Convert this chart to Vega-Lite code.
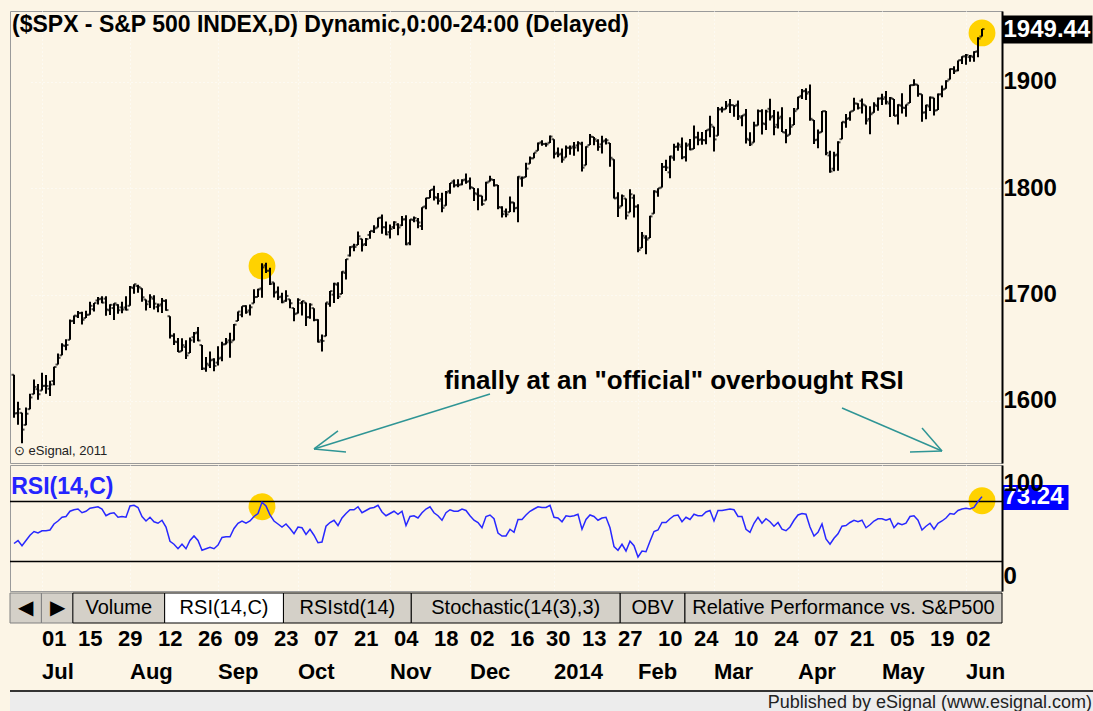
{
  "$schema": "https://vega.github.io/schema/vega-lite/v6.json",
  "background": "#FCF5E6",
  "padding": {"left": 8, "top": 10, "right": 0, "bottom": 0},
  "config": {
    "font": "Liberation Sans",
    "view": {"stroke": null},
    "axis": {"labelFont": "Liberation Sans"},
    "title": {"font": "Liberation Sans"}
  },
  "data": {"values": [
{"date":"2013-06-20","open":1624.6,"high":1624.6,"low":1584.3,"close":1588.2,"rsi":42},
{"date":"2013-06-21","open":1588.6,"high":1599.2,"low":1577.7,"close":1592.4,"rsi":43.9},
{"date":"2013-06-24","open":1588.8,"high":1588.8,"low":1560.3,"close":1573.1,"rsi":40.5},
{"date":"2013-06-25","open":1577.5,"high":1593.8,"low":1577.1,"close":1588.0,"rsi":44},
{"date":"2013-06-26","open":1592.3,"high":1606.8,"low":1592.3,"close":1603.3,"rsi":47.5},
{"date":"2013-06-27","open":1606.4,"high":1620.1,"low":1606.4,"close":1613.2,"rsi":50},
{"date":"2013-06-28","open":1611.1,"high":1615.9,"low":1601.1,"close":1606.3,"rsi":49},
{"date":"2013-07-01","open":1609.8,"high":1626.6,"low":1609.8,"close":1614.1,"rsi":50.5},
{"date":"2013-07-02","open":1614.3,"high":1624.3,"low":1606.8,"close":1614.1,"rsi":50.5},
{"date":"2013-07-03","open":1611.5,"high":1618.9,"low":1604.6,"close":1615.4,"rsi":51},
{"date":"2013-07-05","open":1618.7,"high":1632.1,"low":1614.7,"close":1631.9,"rsi":55},
{"date":"2013-07-08","open":1634.2,"high":1644.7,"low":1634.2,"close":1640.5,"rsi":57},
{"date":"2013-07-09","open":1642.9,"high":1654.2,"low":1642.9,"close":1652.3,"rsi":59.5},
{"date":"2013-07-10","open":1651.6,"high":1657.9,"low":1647.7,"close":1652.6,"rsi":60},
{"date":"2013-07-11","open":1657.4,"high":1676.6,"low":1657.4,"close":1675.0,"rsi":63.5},
{"date":"2013-07-12","open":1675.3,"high":1680.2,"low":1672.3,"close":1680.2,"rsi":64.5},
{"date":"2013-07-15","open":1679.6,"high":1684.5,"low":1677.9,"close":1682.5,"rsi":65},
{"date":"2013-07-16","open":1682.7,"high":1683.7,"low":1671.8,"close":1676.3,"rsi":62.5},
{"date":"2013-07-17","open":1677.9,"high":1684.8,"low":1677.9,"close":1680.9,"rsi":63.5},
{"date":"2013-07-18","open":1681.1,"high":1693.1,"low":1681.1,"close":1689.4,"rsi":65.5},
{"date":"2013-07-19","open":1686.2,"high":1692.1,"low":1684.1,"close":1692.1,"rsi":66},
{"date":"2013-07-22","open":1694.4,"high":1697.6,"low":1690.7,"close":1695.5,"rsi":66.5},
{"date":"2013-07-23","open":1696.1,"high":1698.4,"low":1691.7,"close":1692.4,"rsi":65},
{"date":"2013-07-24","open":1696.1,"high":1698.4,"low":1680.1,"close":1685.9,"rsi":60.5},
{"date":"2013-07-25","open":1685.2,"high":1690.9,"low":1680.7,"close":1690.3,"rsi":62},
{"date":"2013-07-26","open":1687.3,"high":1691.9,"low":1676.0,"close":1691.7,"rsi":62.5},
{"date":"2013-07-29","open":1690.3,"high":1690.9,"low":1681.9,"close":1685.3,"rsi":59.5},
{"date":"2013-07-30","open":1687.9,"high":1693.2,"low":1682.4,"close":1685.9,"rsi":60},
{"date":"2013-07-31","open":1687.8,"high":1698.4,"low":1684.9,"close":1685.7,"rsi":59.5},
{"date":"2013-08-01","open":1689.4,"high":1707.9,"low":1689.4,"close":1706.9,"rsi":67},
{"date":"2013-08-02","open":1706.1,"high":1709.7,"low":1700.7,"close":1709.7,"rsi":67.5},
{"date":"2013-08-05","open":1708.0,"high":1709.2,"low":1701.6,"close":1707.1,"rsi":66},
{"date":"2013-08-06","open":1705.8,"high":1705.8,"low":1693.3,"close":1697.4,"rsi":60},
{"date":"2013-08-07","open":1695.3,"high":1695.3,"low":1684.9,"close":1690.9,"rsi":57},
{"date":"2013-08-08","open":1693.4,"high":1700.2,"low":1687.4,"close":1697.5,"rsi":59.5},
{"date":"2013-08-09","open":1696.1,"high":1699.4,"low":1686.0,"close":1691.4,"rsi":56.5},
{"date":"2013-08-12","open":1688.4,"high":1691.5,"low":1683.4,"close":1689.5,"rsi":55.5},
{"date":"2013-08-13","open":1690.7,"high":1696.8,"low":1682.6,"close":1694.2,"rsi":57.5},
{"date":"2013-08-14","open":1693.9,"high":1695.5,"low":1684.8,"close":1685.4,"rsi":53},
{"date":"2013-08-15","open":1679.6,"high":1679.6,"low":1658.6,"close":1661.3,"rsi":43.5},
{"date":"2013-08-16","open":1661.2,"high":1663.6,"low":1652.6,"close":1655.8,"rsi":41.5},
{"date":"2013-08-19","open":1655.3,"high":1659.2,"low":1646.1,"close":1646.1,"rsi":38.5},
{"date":"2013-08-20","open":1646.8,"high":1658.9,"low":1646.8,"close":1652.4,"rsi":41.5},
{"date":"2013-08-21","open":1650.7,"high":1657.0,"low":1639.4,"close":1642.8,"rsi":38.5},
{"date":"2013-08-22","open":1645.0,"high":1659.6,"low":1645.0,"close":1657.0,"rsi":44},
{"date":"2013-08-23","open":1659.9,"high":1664.8,"low":1654.8,"close":1663.5,"rsi":47},
{"date":"2013-08-26","open":1664.3,"high":1669.5,"low":1656.0,"close":1656.8,"rsi":44},
{"date":"2013-08-27","open":1652.5,"high":1652.5,"low":1629.1,"close":1630.5,"rsi":37.5},
{"date":"2013-08-28","open":1630.3,"high":1641.2,"low":1627.5,"close":1635.0,"rsi":38.5},
{"date":"2013-08-29","open":1633.5,"high":1646.4,"low":1630.9,"close":1638.2,"rsi":39.5},
{"date":"2013-08-30","open":1638.9,"high":1640.1,"low":1628.0,"close":1633.0,"rsi":38.5},
{"date":"2013-09-03","open":1636.0,"high":1651.4,"low":1633.4,"close":1639.8,"rsi":41},
{"date":"2013-09-04","open":1640.7,"high":1655.7,"low":1637.4,"close":1653.1,"rsi":46},
{"date":"2013-09-05","open":1653.3,"high":1659.2,"low":1653.1,"close":1655.1,"rsi":46.5},
{"date":"2013-09-06","open":1656.9,"high":1664.1,"low":1640.6,"close":1655.2,"rsi":46.5},
{"date":"2013-09-09","open":1656.9,"high":1672.4,"low":1656.9,"close":1671.7,"rsi":52},
{"date":"2013-09-10","open":1675.1,"high":1684.1,"low":1675.1,"close":1684.0,"rsi":55.5},
{"date":"2013-09-11","open":1681.0,"high":1689.1,"low":1678.7,"close":1689.1,"rsi":57},
{"date":"2013-09-12","open":1689.2,"high":1690.0,"low":1682.0,"close":1683.4,"rsi":55.5},
{"date":"2013-09-13","open":1685.0,"high":1690.6,"low":1680.2,"close":1688.0,"rsi":57},
{"date":"2013-09-16","open":1691.7,"high":1705.0,"low":1691.7,"close":1697.6,"rsi":60},
{"date":"2013-09-17","open":1697.7,"high":1705.5,"low":1697.7,"close":1704.8,"rsi":62},
{"date":"2013-09-18","open":1705.7,"high":1729.4,"low":1697.0,"close":1725.5,"rsi":69.5},
{"date":"2013-09-19","open":1727.3,"high":1729.9,"low":1720.2,"close":1722.3,"rsi":67},
{"date":"2013-09-20","open":1722.4,"high":1725.2,"low":1708.9,"close":1709.9,"rsi":61},
{"date":"2013-09-23","open":1711.4,"high":1711.4,"low":1697.1,"close":1701.8,"rsi":57},
{"date":"2013-09-24","open":1702.6,"high":1707.6,"low":1694.9,"close":1697.4,"rsi":55},
{"date":"2013-09-25","open":1698.0,"high":1701.7,"low":1691.9,"close":1692.8,"rsi":53},
{"date":"2013-09-26","open":1694.1,"high":1703.9,"low":1693.1,"close":1698.7,"rsi":55},
{"date":"2013-09-27","open":1695.5,"high":1695.5,"low":1687.1,"close":1691.8,"rsi":52},
{"date":"2013-09-30","open":1687.3,"high":1687.3,"low":1675.0,"close":1681.6,"rsi":48.5},
{"date":"2013-10-01","open":1682.4,"high":1696.6,"low":1682.1,"close":1695.0,"rsi":53},
{"date":"2013-10-02","open":1691.9,"high":1693.9,"low":1680.3,"close":1693.9,"rsi":52.5},
{"date":"2013-10-03","open":1692.4,"high":1692.4,"low":1670.4,"close":1678.7,"rsi":48},
{"date":"2013-10-04","open":1678.8,"high":1691.9,"low":1677.3,"close":1690.5,"rsi":51.5},
{"date":"2013-10-07","open":1687.2,"high":1687.2,"low":1675.0,"close":1676.1,"rsi":47.5},
{"date":"2013-10-08","open":1676.2,"high":1676.8,"low":1655.0,"close":1655.5,"rsi":42.5},
{"date":"2013-10-09","open":1657.0,"high":1662.5,"low":1646.5,"close":1656.4,"rsi":43},
{"date":"2013-10-10","open":1660.9,"high":1692.6,"low":1660.9,"close":1692.6,"rsi":53.5},
{"date":"2013-10-11","open":1691.1,"high":1703.4,"low":1688.5,"close":1703.2,"rsi":56},
{"date":"2013-10-14","open":1699.9,"high":1711.0,"low":1692.1,"close":1710.1,"rsi":57.5},
{"date":"2013-10-15","open":1709.2,"high":1711.6,"low":1695.9,"close":1698.1,"rsi":54},
{"date":"2013-10-16","open":1700.5,"high":1721.8,"low":1700.5,"close":1721.5,"rsi":59},
{"date":"2013-10-17","open":1720.2,"high":1733.4,"low":1714.1,"close":1733.2,"rsi":62},
{"date":"2013-10-18","open":1736.7,"high":1745.3,"low":1735.7,"close":1744.5,"rsi":64.5},
{"date":"2013-10-21","open":1745.2,"high":1747.8,"low":1740.6,"close":1744.7,"rsi":64.5},
{"date":"2013-10-22","open":1746.5,"high":1759.3,"low":1746.5,"close":1754.7,"rsi":66.5},
{"date":"2013-10-23","open":1752.3,"high":1752.3,"low":1740.5,"close":1746.4,"rsi":62.5},
{"date":"2013-10-24","open":1747.5,"high":1753.0,"low":1745.5,"close":1752.1,"rsi":64},
{"date":"2013-10-25","open":1756.0,"high":1759.8,"low":1752.5,"close":1759.8,"rsi":65.5},
{"date":"2013-10-28","open":1759.4,"high":1765.0,"low":1757.7,"close":1762.1,"rsi":66},
{"date":"2013-10-29","open":1762.9,"high":1772.1,"low":1762.9,"close":1772.0,"rsi":67.5},
{"date":"2013-10-30","open":1772.3,"high":1775.2,"low":1757.2,"close":1763.3,"rsi":63},
{"date":"2013-10-31","open":1763.2,"high":1768.5,"low":1755.7,"close":1756.5,"rsi":60.5},
{"date":"2013-11-01","open":1758.7,"high":1765.7,"low":1752.7,"close":1761.6,"rsi":62},
{"date":"2013-11-04","open":1763.4,"high":1768.8,"low":1761.6,"close":1767.9,"rsi":63.5},
{"date":"2013-11-05","open":1765.7,"high":1767.0,"low":1755.8,"close":1763.0,"rsi":61.5},
{"date":"2013-11-06","open":1765.0,"high":1773.7,"low":1764.4,"close":1770.5,"rsi":63.5},
{"date":"2013-11-07","open":1770.7,"high":1774.5,"low":1746.2,"close":1747.2,"rsi":54},
{"date":"2013-11-08","open":1748.4,"high":1770.8,"low":1746.2,"close":1770.6,"rsi":60},
{"date":"2013-11-11","open":1770.0,"high":1773.4,"low":1767.8,"close":1771.9,"rsi":60.5},
{"date":"2013-11-12","open":1769.5,"high":1771.8,"low":1762.3,"close":1767.7,"rsi":59},
{"date":"2013-11-13","open":1764.4,"high":1782.0,"low":1760.6,"close":1782.0,"rsi":62.5},
{"date":"2013-11-14","open":1782.8,"high":1791.0,"low":1780.2,"close":1790.6,"rsi":65},
{"date":"2013-11-15","open":1790.7,"high":1798.2,"low":1790.7,"close":1798.2,"rsi":66.5},
{"date":"2013-11-18","open":1798.8,"high":1802.3,"low":1788.4,"close":1791.5,"rsi":62.5},
{"date":"2013-11-19","open":1790.8,"high":1795.5,"low":1784.7,"close":1787.9,"rsi":60.5},
{"date":"2013-11-20","open":1789.6,"high":1795.7,"low":1777.2,"close":1781.4,"rsi":57.5},
{"date":"2013-11-21","open":1783.5,"high":1797.2,"low":1783.5,"close":1795.9,"rsi":62.5},
{"date":"2013-11-22","open":1797.2,"high":1804.8,"low":1794.7,"close":1804.8,"rsi":64.5},
{"date":"2013-11-25","open":1806.3,"high":1808.1,"low":1800.6,"close":1802.5,"rsi":63.5},
{"date":"2013-11-26","open":1802.9,"high":1808.4,"low":1800.8,"close":1802.8,"rsi":63.5},
{"date":"2013-11-27","open":1803.5,"high":1808.3,"low":1802.6,"close":1807.2,"rsi":65},
{"date":"2013-11-29","open":1808.0,"high":1813.6,"low":1804.0,"close":1805.8,"rsi":64},
{"date":"2013-12-02","open":1806.6,"high":1810.0,"low":1798.6,"close":1800.9,"rsi":60.5},
{"date":"2013-12-03","open":1800.1,"high":1800.1,"low":1787.9,"close":1795.2,"rsi":57.5},
{"date":"2013-12-04","open":1794.2,"high":1799.8,"low":1779.1,"close":1792.8,"rsi":56},
{"date":"2013-12-05","open":1792.8,"high":1792.8,"low":1783.4,"close":1785.0,"rsi":52.5},
{"date":"2013-12-06","open":1788.4,"high":1806.0,"low":1788.4,"close":1805.1,"rsi":60},
{"date":"2013-12-09","open":1806.2,"high":1811.5,"low":1806.2,"close":1808.4,"rsi":61},
{"date":"2013-12-10","open":1807.6,"high":1808.5,"low":1801.4,"close":1802.6,"rsi":58.5},
{"date":"2013-12-11","open":1802.8,"high":1803.0,"low":1780.1,"close":1782.2,"rsi":49},
{"date":"2013-12-12","open":1781.7,"high":1783.0,"low":1772.3,"close":1775.5,"rsi":47},
{"date":"2013-12-13","open":1778.0,"high":1780.9,"low":1772.5,"close":1775.3,"rsi":47},
{"date":"2013-12-16","open":1777.5,"high":1792.2,"low":1777.5,"close":1786.5,"rsi":51.5},
{"date":"2013-12-17","open":1786.5,"high":1786.8,"low":1777.2,"close":1781.0,"rsi":49.5},
{"date":"2013-12-18","open":1781.5,"high":1811.1,"low":1768.0,"close":1810.7,"rsi":58},
{"date":"2013-12-19","open":1809.0,"high":1810.9,"low":1801.3,"close":1809.6,"rsi":58},
{"date":"2013-12-20","open":1810.4,"high":1823.8,"low":1810.3,"close":1818.3,"rsi":61},
{"date":"2013-12-23","open":1822.9,"high":1829.8,"low":1822.9,"close":1828.0,"rsi":63.5},
{"date":"2013-12-24","open":1828.0,"high":1833.3,"low":1828.0,"close":1833.3,"rsi":65},
{"date":"2013-12-26","open":1835.0,"high":1842.8,"low":1835.0,"close":1842.0,"rsi":66.5},
{"date":"2013-12-27","open":1843.0,"high":1844.9,"low":1839.8,"close":1841.4,"rsi":66},
{"date":"2013-12-30","open":1841.5,"high":1842.5,"low":1838.8,"close":1841.1,"rsi":66},
{"date":"2013-12-31","open":1842.6,"high":1849.4,"low":1842.4,"close":1848.4,"rsi":67.5},
{"date":"2014-01-02","open":1845.9,"high":1845.9,"low":1827.7,"close":1832.0,"rsi":59.5},
{"date":"2014-01-03","open":1833.2,"high":1838.2,"low":1829.1,"close":1831.4,"rsi":59},
{"date":"2014-01-06","open":1832.3,"high":1837.2,"low":1823.7,"close":1826.8,"rsi":56.5},
{"date":"2014-01-07","open":1828.7,"high":1840.1,"low":1828.7,"close":1837.9,"rsi":60.5},
{"date":"2014-01-08","open":1837.9,"high":1840.0,"low":1831.4,"close":1837.5,"rsi":60},
{"date":"2014-01-09","open":1839.0,"high":1843.2,"low":1830.4,"close":1838.1,"rsi":60.5},
{"date":"2014-01-10","open":1840.1,"high":1843.9,"low":1834.4,"close":1842.4,"rsi":61.5},
{"date":"2014-01-13","open":1841.3,"high":1843.5,"low":1815.5,"close":1819.2,"rsi":51.5},
{"date":"2014-01-14","open":1821.4,"high":1839.3,"low":1821.4,"close":1838.9,"rsi":58},
{"date":"2014-01-15","open":1840.5,"high":1850.8,"low":1840.5,"close":1848.4,"rsi":61},
{"date":"2014-01-16","open":1848.0,"high":1848.0,"low":1840.3,"close":1845.9,"rsi":60},
{"date":"2014-01-17","open":1844.2,"high":1846.0,"low":1835.2,"close":1838.7,"rsi":57.5},
{"date":"2014-01-21","open":1841.1,"high":1849.3,"low":1832.4,"close":1843.8,"rsi":59},
{"date":"2014-01-22","open":1844.7,"high":1846.9,"low":1840.9,"close":1844.9,"rsi":59.5},
{"date":"2014-01-23","open":1842.3,"high":1842.3,"low":1820.1,"close":1828.5,"rsi":52.5},
{"date":"2014-01-24","open":1827.0,"high":1827.0,"low":1790.3,"close":1790.3,"rsi":40},
{"date":"2014-01-27","open":1791.0,"high":1796.0,"low":1772.9,"close":1781.6,"rsi":37.5},
{"date":"2014-01-28","open":1783.0,"high":1793.9,"low":1783.0,"close":1792.5,"rsi":41.5},
{"date":"2014-01-29","open":1790.2,"high":1790.2,"low":1770.5,"close":1774.2,"rsi":37},
{"date":"2014-01-30","open":1777.2,"high":1798.8,"low":1777.2,"close":1794.2,"rsi":43.5},
{"date":"2014-01-31","open":1790.9,"high":1793.9,"low":1772.3,"close":1782.6,"rsi":40.5},
{"date":"2014-02-03","open":1782.7,"high":1784.8,"low":1739.7,"close":1741.9,"rsi":33},
{"date":"2014-02-04","open":1743.8,"high":1758.7,"low":1743.8,"close":1755.2,"rsi":37},
{"date":"2014-02-05","open":1753.4,"high":1755.8,"low":1737.9,"close":1751.6,"rsi":36.5},
{"date":"2014-02-06","open":1753.0,"high":1774.1,"low":1753.0,"close":1773.4,"rsi":43.5},
{"date":"2014-02-07","open":1776.0,"high":1798.0,"low":1776.0,"close":1797.0,"rsi":50},
{"date":"2014-02-10","open":1796.2,"high":1799.9,"low":1791.8,"close":1799.8,"rsi":51},
{"date":"2014-02-11","open":1800.5,"high":1823.5,"low":1800.5,"close":1819.8,"rsi":56},
{"date":"2014-02-12","open":1820.1,"high":1826.6,"low":1816.0,"close":1819.3,"rsi":56},
{"date":"2014-02-13","open":1814.8,"high":1830.3,"low":1809.2,"close":1829.8,"rsi":58.5},
{"date":"2014-02-14","open":1828.5,"high":1841.7,"low":1825.6,"close":1838.6,"rsi":60.5},
{"date":"2014-02-18","open":1839.0,"high":1842.9,"low":1835.0,"close":1840.8,"rsi":61},
{"date":"2014-02-19","open":1838.9,"high":1847.5,"low":1827.0,"close":1828.8,"rsi":56.5},
{"date":"2014-02-20","open":1829.2,"high":1842.8,"low":1824.9,"close":1839.8,"rsi":59.5},
{"date":"2014-02-21","open":1841.1,"high":1846.1,"low":1835.6,"close":1836.3,"rsi":58},
{"date":"2014-02-24","open":1836.8,"high":1858.7,"low":1836.8,"close":1847.6,"rsi":61.5},
{"date":"2014-02-25","open":1847.7,"high":1852.9,"low":1840.2,"close":1845.1,"rsi":60.5},
{"date":"2014-02-26","open":1845.8,"high":1852.7,"low":1840.7,"close":1845.2,"rsi":60.5},
{"date":"2014-02-27","open":1844.9,"high":1854.5,"low":1841.1,"close":1854.3,"rsi":63},
{"date":"2014-02-28","open":1855.1,"high":1867.9,"low":1847.7,"close":1859.5,"rsi":64},
{"date":"2014-03-03","open":1857.7,"high":1857.7,"low":1834.4,"close":1845.7,"rsi":57},
{"date":"2014-03-04","open":1849.2,"high":1876.2,"low":1849.2,"close":1873.9,"rsi":64},
{"date":"2014-03-05","open":1874.1,"high":1876.5,"low":1871.1,"close":1873.8,"rsi":64},
{"date":"2014-03-06","open":1874.2,"high":1881.9,"low":1874.2,"close":1877.0,"rsi":64.5},
{"date":"2014-03-07","open":1878.5,"high":1883.6,"low":1870.6,"close":1878.0,"rsi":65},
{"date":"2014-03-10","open":1877.9,"high":1877.9,"low":1867.0,"close":1877.2,"rsi":64.5},
{"date":"2014-03-11","open":1878.3,"high":1882.4,"low":1863.9,"close":1867.6,"rsi":60},
{"date":"2014-03-12","open":1866.2,"high":1868.4,"low":1858.0,"close":1868.2,"rsi":60},
{"date":"2014-03-13","open":1869.1,"high":1874.4,"low":1841.9,"close":1846.3,"rsi":51.5},
{"date":"2014-03-14","open":1845.1,"high":1852.4,"low":1839.6,"close":1841.1,"rsi":49.5},
{"date":"2014-03-17","open":1842.8,"high":1862.3,"low":1842.8,"close":1858.8,"rsi":55.5},
{"date":"2014-03-18","open":1858.9,"high":1873.8,"low":1858.9,"close":1872.3,"rsi":59.5},
{"date":"2014-03-19","open":1872.3,"high":1874.1,"low":1850.4,"close":1860.8,"rsi":55.5},
{"date":"2014-03-20","open":1860.1,"high":1873.5,"low":1854.6,"close":1872.0,"rsi":58.5},
{"date":"2014-03-21","open":1874.5,"high":1884.0,"low":1863.5,"close":1866.5,"rsi":56.5},
{"date":"2014-03-24","open":1867.7,"high":1873.3,"low":1849.7,"close":1857.4,"rsi":53.5},
{"date":"2014-03-25","open":1859.5,"high":1871.9,"low":1856.0,"close":1865.6,"rsi":56},
{"date":"2014-03-26","open":1867.1,"high":1875.9,"low":1852.6,"close":1852.6,"rsi":51.5},
{"date":"2014-03-27","open":1852.1,"high":1855.6,"low":1842.1,"close":1849.0,"rsi":50.5},
{"date":"2014-03-28","open":1850.1,"high":1866.6,"low":1850.1,"close":1857.6,"rsi":53},
{"date":"2014-03-31","open":1859.2,"high":1875.2,"low":1859.2,"close":1872.3,"rsi":57.5},
{"date":"2014-04-01","open":1874.0,"high":1885.8,"low":1874.0,"close":1885.5,"rsi":61},
{"date":"2014-04-02","open":1886.6,"high":1893.2,"low":1883.8,"close":1890.9,"rsi":62},
{"date":"2014-04-03","open":1891.4,"high":1893.8,"low":1882.7,"close":1888.8,"rsi":61.5},
{"date":"2014-04-04","open":1890.3,"high":1897.3,"low":1863.3,"close":1865.1,"rsi":53},
{"date":"2014-04-07","open":1863.9,"high":1864.0,"low":1841.5,"close":1845.0,"rsi":47},
{"date":"2014-04-08","open":1845.5,"high":1855.0,"low":1837.5,"close":1852.0,"rsi":49.5},
{"date":"2014-04-09","open":1852.6,"high":1872.4,"low":1852.4,"close":1872.2,"rsi":55},
{"date":"2014-04-10","open":1872.3,"high":1872.5,"low":1830.9,"close":1833.1,"rsi":45},
{"date":"2014-04-11","open":1830.7,"high":1835.1,"low":1814.4,"close":1815.7,"rsi":41.5},
{"date":"2014-04-14","open":1818.2,"high":1834.2,"low":1815.8,"close":1830.6,"rsi":45.5},
{"date":"2014-04-15","open":1831.5,"high":1844.0,"low":1816.3,"close":1843.0,"rsi":48.5},
{"date":"2014-04-16","open":1846.0,"high":1862.3,"low":1846.0,"close":1862.3,"rsi":53.5},
{"date":"2014-04-17","open":1861.7,"high":1869.6,"low":1856.7,"close":1864.9,"rsi":54},
{"date":"2014-04-21","open":1865.8,"high":1871.9,"low":1863.2,"close":1871.9,"rsi":56},
{"date":"2014-04-22","open":1872.6,"high":1884.9,"low":1872.6,"close":1879.6,"rsi":57.5},
{"date":"2014-04-23","open":1879.3,"high":1879.8,"low":1873.9,"close":1875.4,"rsi":56.5},
{"date":"2014-04-24","open":1882.0,"high":1884.1,"low":1870.2,"close":1878.6,"rsi":57.5},
{"date":"2014-04-25","open":1877.7,"high":1877.7,"low":1859.7,"close":1863.4,"rsi":52.5},
{"date":"2014-04-28","open":1865.0,"high":1877.0,"low":1850.6,"close":1869.4,"rsi":54.5},
{"date":"2014-04-29","open":1870.8,"high":1880.6,"low":1870.8,"close":1878.3,"rsi":57},
{"date":"2014-04-30","open":1877.1,"high":1885.2,"low":1872.7,"close":1884.0,"rsi":58.5},
{"date":"2014-05-01","open":1884.4,"high":1888.6,"low":1878.0,"close":1883.7,"rsi":58.5},
{"date":"2014-05-02","open":1885.3,"high":1891.3,"low":1878.5,"close":1881.1,"rsi":57.5},
{"date":"2014-05-05","open":1879.5,"high":1885.5,"low":1866.8,"close":1884.7,"rsi":58.5},
{"date":"2014-05-06","open":1883.7,"high":1883.7,"low":1867.7,"close":1867.7,"rsi":52.5},
{"date":"2014-05-07","open":1868.5,"high":1878.8,"low":1859.8,"close":1878.2,"rsi":55.5},
{"date":"2014-05-08","open":1877.4,"high":1889.1,"low":1870.1,"close":1875.6,"rsi":54.5},
{"date":"2014-05-09","open":1875.3,"high":1878.6,"low":1867.0,"close":1878.5,"rsi":55.5},
{"date":"2014-05-12","open":1880.0,"high":1897.1,"low":1880.0,"close":1896.7,"rsi":60},
{"date":"2014-05-13","open":1896.8,"high":1902.2,"low":1896.1,"close":1897.5,"rsi":60.5},
{"date":"2014-05-14","open":1897.1,"high":1897.1,"low":1885.8,"close":1888.5,"rsi":57.5},
{"date":"2014-05-15","open":1888.2,"high":1888.2,"low":1862.4,"close":1870.9,"rsi":51},
{"date":"2014-05-16","open":1871.2,"high":1878.3,"low":1864.8,"close":1877.9,"rsi":53.5},
{"date":"2014-05-19","open":1876.7,"high":1886.0,"low":1872.4,"close":1885.1,"rsi":55.5},
{"date":"2014-05-20","open":1884.9,"high":1884.9,"low":1868.1,"close":1872.8,"rsi":51.5},
{"date":"2014-05-21","open":1873.3,"high":1888.8,"low":1873.3,"close":1888.0,"rsi":55.5},
{"date":"2014-05-22","open":1888.2,"high":1896.3,"low":1885.4,"close":1892.5,"rsi":57},
{"date":"2014-05-23","open":1893.3,"high":1901.3,"low":1893.3,"close":1900.5,"rsi":59},
{"date":"2014-05-27","open":1902.0,"high":1912.3,"low":1902.0,"close":1911.9,"rsi":62},
{"date":"2014-05-28","open":1911.8,"high":1914.5,"low":1907.3,"close":1909.8,"rsi":61.5},
{"date":"2014-05-29","open":1910.6,"high":1920.0,"low":1909.8,"close":1920.0,"rsi":64},
{"date":"2014-05-30","open":1920.3,"high":1924.0,"low":1916.6,"close":1923.6,"rsi":65},
{"date":"2014-06-02","open":1923.9,"high":1925.9,"low":1916.0,"close":1925.0,"rsi":65.5},
{"date":"2014-06-03","open":1923.1,"high":1925.1,"low":1918.8,"close":1924.2,"rsi":65},
{"date":"2014-06-04","open":1923.1,"high":1928.6,"low":1918.6,"close":1927.9,"rsi":66},
{"date":"2014-06-05","open":1928.5,"high":1941.7,"low":1922.9,"close":1940.5,"rsi":70},
{"date":"2014-06-06","open":1942.4,"high":1949.44,"low":1942.4,"close":1949.44,"rsi":73.24}
  ]},
  "spacing": 0,
  "vconcat": [
    {
      "spacing": 0,
      "vconcat": [
        {
          "width": 992,
          "height": 452,
          "view": {"stroke": "#9a9a9a", "strokeWidth": 1},
          "title": {"text": "($SPX - S&P 500 INDEX,D) Dynamic,0:00-24:00 (Delayed)", "anchor": "start", "offset": -26, "fontSize": 23, "fontWeight": "bold", "color": "#000000", "dx": 2},
          "layer": [
            {
              "data": {"values": [{"date": "2013-09-18", "price": 1726.8}, {"date": "2014-06-06", "price": 1945.8}]},
              "mark": {"type": "circle", "size": 720, "color": "#FFD200", "opacity": 1},
              "encoding": {
                "x": {"field": "date", "type": "ordinal", "title": null, "scale": {"paddingInner": 0, "paddingOuter": 0, "range": [2, 974]},
                      "axis": {"orient": "bottom", "values": ["2013-07-01","2013-08-01","2013-09-03","2013-10-01","2013-11-01","2013-12-02","2014-01-02","2014-02-03","2014-03-03","2014-04-01","2014-05-01","2014-06-02"], "labels": false, "ticks": false, "domain": false, "grid": true, "gridColor": "#ffffff", "gridDash": [1, 3], "title": null}},
                "y": {"field": "price", "type": "quantitative", "title": null, "scale": {"domain": [1541.7, 1966.4], "nice": false, "zero": false}}
              }
            },
            {
              "mark": {"type": "rule", "color": "#000000", "strokeWidth": 2},
              "encoding": {
                "x": {"field": "date", "type": "ordinal", "title": null, "scale": {"paddingInner": 0, "paddingOuter": 0, "range": [2, 974]}},
                "y": {"field": "high", "type": "quantitative", "title": null, "scale": {"domain": [1541.7, 1966.4], "nice": false, "zero": false},
                      "axis": {
                        "orient": "right",
                        "values": [1600, 1700, 1800, 1900, 1949.44],
                        "labelExpr": "datum.value > 1940 ? format(datum.value, '.2f') : format(datum.value, 'd')",
                        "labelFontSize": 24, "labelFontWeight": "bold",
                        "labelColor": {"condition": {"test": "datum.value > 1940", "value": "#ffffff"}, "value": "#000000"},
                        "labelPadding": {"condition": {"test": "datum.value > 1940", "value": -89}, "value": 1},
                        "ticks": true,
                        "tickSize": {"condition": {"test": "datum.value > 1940", "value": 90}, "value": 0},
                        "tickWidth": {"condition": {"test": "datum.value > 1940", "value": 28}, "value": 0.01},
                        "tickColor": "#000000",
                        "domain": true, "domainColor": "#000000", "domainWidth": 2,
                        "grid": true, "gridColor": "#ffffff", "gridDash": [1, 3],
                        "gridOpacity": {"condition": {"test": "datum.value > 1940", "value": 0}, "value": 1},
                        "labelOverlap": false, "labelFlush": false, "labelBound": false, "title": null
                      }},
                "y2": {"field": "low"}
              }
            },
            {
              "mark": {"type": "tick", "color": "#000000", "size": 2.5, "thickness": 2, "xOffset": -1.25},
              "encoding": {
                "x": {"field": "date", "type": "ordinal", "title": null, "scale": {"paddingInner": 0, "paddingOuter": 0, "range": [2, 974]}},
                "y": {"field": "open", "type": "quantitative", "title": null, "scale": {"domain": [1541.7, 1966.4], "nice": false, "zero": false}}
              }
            },
            {
              "mark": {"type": "tick", "color": "#000000", "size": 2.5, "thickness": 2, "xOffset": 1.25},
              "encoding": {
                "x": {"field": "date", "type": "ordinal", "title": null, "scale": {"paddingInner": 0, "paddingOuter": 0, "range": [2, 974]}},
                "y": {"field": "close", "type": "quantitative", "title": null, "scale": {"domain": [1541.7, 1966.4], "nice": false, "zero": false}}
              }
            },
            {
              "data": {"values": [
                {"seg": "a", "date": "2013-12-09", "price": 1606.6}, {"seg": "a", "date": "2013-10-07", "price": 1554.9},
                {"seg": "b", "date": "2013-10-07", "price": 1554.9}, {"seg": "b", "date": "2013-10-15", "price": 1571.8},
                {"seg": "c", "date": "2013-10-07", "price": 1554.9}, {"seg": "c", "date": "2013-10-17", "price": 1552.1},
                {"seg": "d", "date": "2014-04-16", "price": 1593.4}, {"seg": "d", "date": "2014-05-22", "price": 1553.0},
                {"seg": "e", "date": "2014-05-22", "price": 1553.0}, {"seg": "e", "date": "2014-05-15", "price": 1574.6},
                {"seg": "f", "date": "2014-05-22", "price": 1553.0}, {"seg": "f", "date": "2014-05-12", "price": 1552.1}
              ]},
              "mark": {"type": "line", "color": "#2F9595", "strokeWidth": 1.5},
              "encoding": {
                "x": {"field": "date", "type": "ordinal", "title": null, "scale": {"paddingInner": 0, "paddingOuter": 0, "range": [2, 974]}},
                "y": {"field": "price", "type": "quantitative", "title": null, "scale": {"domain": [1541.7, 1966.4], "nice": false, "zero": false}},
                "detail": {"field": "seg"}
              }
            },
            {
              "data": {"values": [{"date": "2014-02-14", "price": 1618.8, "label": "finally at an \"official\" overbought RSI"}]},
              "mark": {"type": "text", "fontSize": 26, "fontWeight": "bold", "color": "#000000", "align": "center", "baseline": "middle"},
              "encoding": {
                "x": {"field": "date", "type": "ordinal", "title": null, "scale": {"paddingInner": 0, "paddingOuter": 0, "range": [2, 974]}},
                "y": {"field": "price", "type": "quantitative", "title": null, "scale": {"domain": [1541.7, 1966.4], "nice": false, "zero": false}},
                "text": {"field": "label"}
              }
            },
            {
              "data": {"values": [{"date": "2013-06-20", "price": 1553, "label": "⊙ eSignal, 2011"}]},
              "mark": {"type": "text", "fontSize": 13, "color": "#222222", "align": "left", "baseline": "middle"},
              "encoding": {
                "x": {"field": "date", "type": "ordinal", "title": null, "scale": {"paddingInner": 0, "paddingOuter": 0, "range": [2, 974]}},
                "y": {"field": "price", "type": "quantitative", "title": null, "scale": {"domain": [1541.7, 1966.4], "nice": false, "zero": false}},
                "text": {"field": "label"}
              }
            }
          ]
        },
        {
          "width": 992,
          "height": 126,
          "view": {"stroke": "#9a9a9a", "strokeWidth": 1},
          "title": {"text": "RSI(14,C)", "anchor": "start", "offset": -34, "fontSize": 23, "fontWeight": "bold", "color": "#2424FF", "dx": 2},
          "layer": [
            {
              "data": {"values": [{"date": "2013-09-18", "rsi": 66.5}, {"date": "2014-06-06", "rsi": 70.5}]},
              "mark": {"type": "circle", "size": 720, "color": "#FFD200", "opacity": 1},
              "encoding": {
                "x": {"field": "date", "type": "ordinal", "title": null, "scale": {"paddingInner": 0, "paddingOuter": 0, "range": [2, 974]},
                      "axis": {"orient": "bottom", "values": ["2013-07-01","2013-08-01","2013-09-03","2013-10-01","2013-11-01","2013-12-02","2014-01-02","2014-02-03","2014-03-03","2014-04-01","2014-05-01","2014-06-02"], "labels": false, "ticks": false, "domain": false, "grid": true, "gridColor": "#ffffff", "gridDash": [1, 3], "title": null}},
                "y": {"field": "rsi", "type": "quantitative", "title": null, "scale": {"domain": [10.33, 94.33], "nice": false, "zero": false},
                      "axis": {
                        "orient": "right",
                        "values": [81.67, 73.24, 20.33],
                        "labelExpr": "datum.value > 80 ? '100' : (datum.value < 30 ? '0' : '73.24')",
                        "labelFontSize": 24, "labelFontWeight": "bold",
                        "labelColor": {"condition": {"test": "datum.value > 72 && datum.value < 75", "value": "#ffffff"}, "value": "#000000"},
                        "labelPadding": {"condition": {"test": "datum.value > 72 && datum.value < 75", "value": -65}, "value": 1},
                        "ticks": true,
                        "tickSize": {"condition": {"test": "datum.value > 72 && datum.value < 75", "value": 66}, "value": 0},
                        "tickWidth": {"condition": {"test": "datum.value > 72 && datum.value < 75", "value": 25}, "value": 0.01},
                        "tickColor": "#0000FF",
                        "domain": true, "domainColor": "#000000", "domainWidth": 2,
                        "grid": false,
                        "labelOverlap": false, "labelFlush": false, "labelBound": false, "title": null
                      }}
              }
            },
            {
              "data": {"values": [{"level": 70}, {"level": 30}]},
              "mark": {"type": "rule", "color": "#000000", "strokeWidth": 1.5},
              "encoding": {
                "y": {"field": "level", "type": "quantitative", "title": null, "scale": {"domain": [10.33, 94.33], "nice": false, "zero": false}}
              }
            },
            {
              "mark": {"type": "line", "color": "#2828FF", "strokeWidth": 1.5},
              "encoding": {
                "x": {"field": "date", "type": "ordinal", "title": null, "scale": {"paddingInner": 0, "paddingOuter": 0, "range": [2, 974]}},
                "y": {"field": "rsi", "type": "quantitative", "title": null, "scale": {"domain": [10.33, 94.33], "nice": false, "zero": false}}
              }
            }
          ]
        }
      ]
    },
    {
      "width": 992,
      "height": 30,
      "view": {"fill": "#D4D0C8", "stroke": null},
      "data": {"values": [
        {"tab": "◀"}, {"tab": "▶"}, {"tab": "Volume"}, {"tab": "RSI(14,C)"}, {"tab": "RSIstd(14)"},
        {"tab": "Stochastic(14(3),3)"}, {"tab": "OBV"}, {"tab": "Relative Performance vs. S&P500"}
      ]},
      "transform": [
        {"calculate": "length(datum.tab) < 2 ? 30 : 8.6 * length(datum.tab) + 36", "as": "w"},
        {"stack": "w", "groupby": [], "as": ["x0", "x1"]},
        {"calculate": "(datum.x0 + datum.x1) / 2", "as": "xm"}
      ],
      "layer": [
        {
          "mark": {"type": "rect", "strokeWidth": 1},
          "encoding": {
            "x": {"field": "x0", "type": "quantitative", "scale": {"nice": false, "zero": true}, "axis": null},
            "x2": {"field": "x1"},
            "fill": {"condition": {"test": "datum.tab === 'RSI(14,C)'", "value": "#ffffff"}, "value": "#D4D0C8"},
            "stroke": {"condition": {"test": "length(datum.tab) < 2", "value": "#808080"}, "value": "#000000"}
          }
        },
        {
          "mark": {"type": "text", "fontSize": 20, "color": "#000000", "baseline": "middle", "clip": true},
          "encoding": {
            "x": {"field": "xm", "type": "quantitative", "axis": null},
            "text": {"field": "tab"}
          }
        }
      ]
    },
    {
      "width": 992,
      "height": 66,
      "view": {"stroke": null},
      "mark": {"type": "tick", "opacity": 0},
      "encoding": {
        "x": {"field": "date", "type": "ordinal", "title": null, "scale": {"paddingInner": 0, "paddingOuter": 0, "range": [2, 974]},
              "axis": {
                "orient": "top",
                "values": ["2013-07-01","2013-07-15","2013-07-29","2013-08-01","2013-08-12","2013-08-26","2013-09-03","2013-09-09","2013-09-23","2013-10-01","2013-10-07","2013-10-21","2013-11-01","2013-11-04","2013-11-18","2013-12-02","2013-12-16","2013-12-30","2014-01-02","2014-01-13","2014-01-27","2014-02-03","2014-02-10","2014-02-24","2014-03-03","2014-03-10","2014-03-24","2014-04-01","2014-04-07","2014-04-21","2014-05-01","2014-05-05","2014-05-19","2014-06-02"],
                "labelExpr": "{'2013-07-01':['01','Jul'],'2013-07-15':['15',''],'2013-07-29':['29',''],'2013-08-01':['','Aug'],'2013-08-12':['12',''],'2013-08-26':['26',''],'2013-09-03':['','Sep'],'2013-09-09':['09',''],'2013-09-23':['23',''],'2013-10-01':['','Oct'],'2013-10-07':['07',''],'2013-10-21':['21',''],'2013-11-01':['','Nov'],'2013-11-04':['04',''],'2013-11-18':['18',''],'2013-12-02':['02','Dec'],'2013-12-16':['16',''],'2013-12-30':['30',''],'2014-01-02':['','2014'],'2014-01-13':['13',''],'2014-01-27':['27',''],'2014-02-03':['','Feb'],'2014-02-10':['10',''],'2014-02-24':['24',''],'2014-03-03':['','Mar'],'2014-03-10':['10',''],'2014-03-24':['24',''],'2014-04-01':['','Apr'],'2014-04-07':['07',''],'2014-04-21':['21',''],'2014-05-01':['','May'],'2014-05-05':['05',''],'2014-05-19':['19',''],'2014-06-02':['02','Jun']}[datum.value]",
                "labelAlign": "left", "labelBaseline": "top", "labelPadding": -4, "labelLineHeight": 33,
                "labelFontSize": 22, "labelFontWeight": "bold", "labelColor": "#000000", "labelAngle": 0,
                "ticks": false, "domain": false, "grid": false,
                "labelOverlap": false, "labelBound": false, "labelFlush": false, "title": null
              }}
      }
    },
    {
      "width": 1085,
      "height": 23,
      "view": {"fill": "#ECECEC", "stroke": null},
      "data": {"values": [{"v": 1}]},
      "mark": {"type": "rule", "color": "#333333", "strokeWidth": 2},
      "encoding": {
        "y": {"datum": 1, "type": "quantitative", "scale": {"domain": [0, 1]}, "axis": null}
      },
      "title": {"text": "Published by eSignal (www.esignal.com)", "orient": "bottom", "anchor": "end", "offset": -20, "fontSize": 18, "fontWeight": "normal", "color": "#222222", "dx": -4}
    }
  ]
}
